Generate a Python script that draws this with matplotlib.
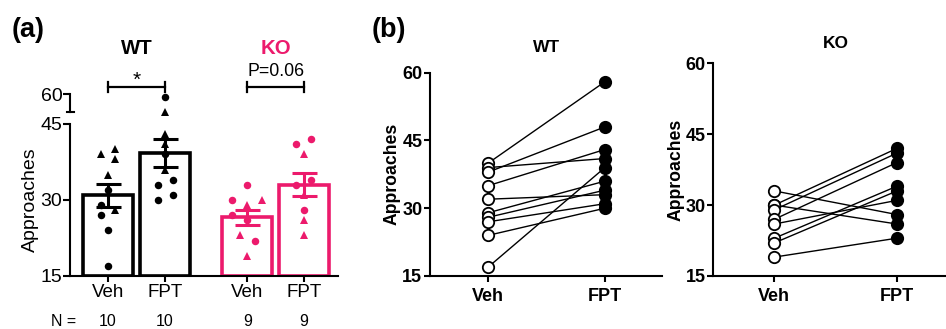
import numpy as np
import matplotlib
matplotlib.use("Agg")
import matplotlib.pyplot as plt
from matplotlib.transforms import blended_transform_factory

plt.rcParams['font.family'] = ['Liberation Sans', 'DejaVu Sans']

# ---------------- data ----------------
groups = ["WT", "KO"]
conditions = ["Veh", "FPT"]
n_labels = ["10", "10", "9", "9"]

# paired values (same animal at same index)
wt_veh = [40, 39, 38, 35, 32, 29, 28, 27, 24, 17]
wt_fpt = [58, 41, 48, 43, 33, 36, 34, 31, 30, 39]
ko_veh = [33, 30, 30, 29, 27, 26, 23, 22, 19]
ko_fpt = [28, 26, 42, 41, 39, 31, 34, 33, 23]

# marker shape for panel (a)
wt_veh_mk = ['^', '^', '^', '^', 'o', 'o', '^', 'o', 'o', 'o']
wt_fpt_mk = ['o', '^', '^', '^', 'o', '^', 'o', 'o', 'o', 'o']
ko_veh_mk = ['o', 'o', '^', '^', 'o', 'o', '^', 'o', '^']
ko_fpt_mk = ['o', '^', 'o', 'o', '^', '^', 'o', 'o', '^']

# horizontal scatter offsets (in jitter steps) for panel (a)
wt_veh_jit = [1, -1, 1, 0, 0, -1, 1, -1, 0, 0]
wt_fpt_jit = [0, 0, 0, 0, -1, 0, 1, 1, -1, 0]
ko_veh_jit = [0, -2, 2, 0, -2, 0, -1, 1, 0]
ko_fpt_jit = [0, 0, 1, -1, 0, 0, 1, -1, 0]

yticks_low = [15, 30, 45]
ytick_high = 60
yticks_b = [15, 30, 45, 60]

BLACK = '#000000'
PINK = '#EC1A6C'

W, H = 946, 329
fig = plt.figure(figsize=(W / 100, H / 100), dpi=100)


def rect(x0, y_top, x1, y_bot):
    return [x0 / W, 1 - y_bot / H, (x1 - x0) / W, (y_bot - y_top) / H]


# ---------------- panel (a) ----------------
xpos = [0.0, 1.0, 2.44, 3.43]
bar_w = 0.88
jstep = 0.13
xlim_a = (-0.667, 4.03)

axl = fig.add_axes(rect(70, 124, 338, 276))
axu = fig.add_axes(rect(70, 94, 338, 112.3))
split = 46.5

series = [
    (wt_veh, wt_veh_mk, wt_veh_jit, BLACK),
    (wt_fpt, wt_fpt_mk, wt_fpt_jit, BLACK),
    (ko_veh, ko_veh_mk, ko_veh_jit, PINK),
    (ko_fpt, ko_fpt_mk, ko_fpt_jit, PINK),
]

for x, (vals, mks, jits, col) in zip(xpos, series):
    vals = np.array(vals, dtype=float)
    m = vals.mean()
    sem = vals.std(ddof=1) / np.sqrt(len(vals))
    axl.bar(x, m - 15, bottom=15, width=bar_w, facecolor='white',
            edgecolor=col, linewidth=2.6, zorder=2)
    axl.errorbar(x, m, yerr=sem, fmt='none', ecolor=col, elinewidth=2.2,
                 capsize=9, capthick=2.2, zorder=5)
    for v, mk, j in zip(vals, mks, jits):
        ax = axu if v > split else axl
        ax.plot(x + j * jstep, v, marker=mk, ls='none', color=col,
                ms=5.4 if mk == 'o' else 5.8, mew=0, zorder=4, clip_on=False)

for ax in (axl, axu):
    ax.set_xlim(*xlim_a)
    ax.spines['top'].set_visible(False)
    ax.spines['right'].set_visible(False)
    ax.spines['left'].set_linewidth(1.5)
    ax.tick_params(axis='y', direction='out', length=5, width=1.5,
                   labelsize=14, pad=0.5)
    ax.patch.set_alpha(0)

axl.set_ylim(15, 45)
axl.set_yticks(yticks_low)
axl.spines['bottom'].set_linewidth(1.5)
axl.set_xticks(xpos)
axl.set_xticklabels(conditions * 2)
axl.tick_params(axis='x', direction='out', length=4, width=1.5,
                labelsize=13.5, pad=2)
axl.set_ylabel('Approaches', fontsize=14, labelpad=1)

axu.set_ylim(47.5, 60)
axu.set_yticks([ytick_high])
axu.spines['bottom'].set_visible(False)
axu.set_xticks([])
axu.plot([-0.012, 0.014], [0, 0], transform=axu.transAxes, color='black',
         lw=1.5, clip_on=False)

# brackets and labels
def bracket(x0, x1, col):
    axu.plot([x0, x1], [64.8, 64.8], color=col, lw=1.6, clip_on=False)
    for xx in (x0, x1):
        axu.plot([xx, xx], [61.6, 67.9], color=col, lw=1.6, clip_on=False)

bracket(xpos[0], xpos[1], 'black')
bracket(xpos[2], xpos[3], 'black')
tr = blended_transform_factory(axu.transData, fig.transFigure)
axu.text((xpos[0] + xpos[1]) / 2, 1 - 80 / H, '*', transform=tr,
         ha='center', va='center', fontsize=15)
axu.text((xpos[2] + xpos[3]) / 2, 1 - 71.5 / H, 'P=0.06', transform=tr,
         ha='center', va='center', fontsize=12.8)
axu.text((xpos[0] + xpos[1]) / 2, 1 - 48.5 / H, groups[0], transform=tr,
         ha='center', va='center', fontsize=14.7, fontweight='bold', color=BLACK)
axu.text((xpos[2] + xpos[3]) / 2, 1 - 48.5 / H, groups[1], transform=tr,
         ha='center', va='center', fontsize=14.7, fontweight='bold', color=PINK)

trl = blended_transform_factory(axl.transData, fig.transFigure)
axl.text(-0.78, 1 - 321.5 / H, 'N =', transform=trl, ha='center',
         va='center', fontsize=11.5)
for x, t in zip(xpos, n_labels):
    axl.text(x, 1 - 321.5 / H, t, transform=trl, ha='center', va='center',
             fontsize=11.5)

fig.text(28 / W, 1 - 30 / H, '(a)', ha='center', va='center',
         fontsize=19.5, fontweight='bold')
fig.text(389 / W, 1 - 30 / H, '(b)', ha='center', va='center',
         fontsize=19.5, fontweight='bold')

# ---------------- panel (b) ----------------
def paired(ax, veh, fpt):
    for a, b in zip(veh, fpt):
        ax.plot([0, 1], [a, b], color='black', lw=1.0, zorder=2)
    ax.plot(np.zeros(len(veh)), veh, 'o', ms=8.2, mfc='white', mec='black',
            mew=1.3, ls='none', zorder=3, clip_on=False)
    ax.plot(np.ones(len(fpt)), fpt, 'o', ms=8.2, mfc='black', mec='black',
            mew=1.3, ls='none', zorder=3, clip_on=False)
    ax.set_ylim(15, 60)
    ax.set_yticks(yticks_b)
    ax.set_xticks([0, 1])
    ax.set_xticklabels(conditions, fontweight='bold')
    for s in ('top', 'right'):
        ax.spines[s].set_visible(False)
    for s in ('left', 'bottom'):
        ax.spines[s].set_linewidth(1.5)
    ax.tick_params(axis='both', direction='out', length=4.5, width=1.5,
                   labelsize=13)
    ax.tick_params(axis='y', pad=1)
    ax.tick_params(axis='x', pad=4)
    for lab in ax.get_yticklabels():
        lab.set_fontweight('bold')
    ax.set_ylabel('Approaches', fontsize=12.7, fontweight='bold', labelpad=1)


axb1 = fig.add_axes(rect(430, 72.7, 662, 276))
axb1.set_xlim(-0.5, 1.49)
paired(axb1, wt_veh, wt_fpt)
fig.text(547 / W, 1 - 47 / H, groups[0], ha='center', va='center',
         fontsize=12.5, fontweight='bold')

axb2 = fig.add_axes(rect(713.3, 63.3, 946, 276))
axb2.set_xlim(-0.498, 1.40)
paired(axb2, ko_veh, ko_fpt)
fig.text(836 / W, 1 - 44 / H, groups[1], ha='center', va='center',
         fontsize=12.5, fontweight='bold')

fig.savefig('out.png', dpi=100)
